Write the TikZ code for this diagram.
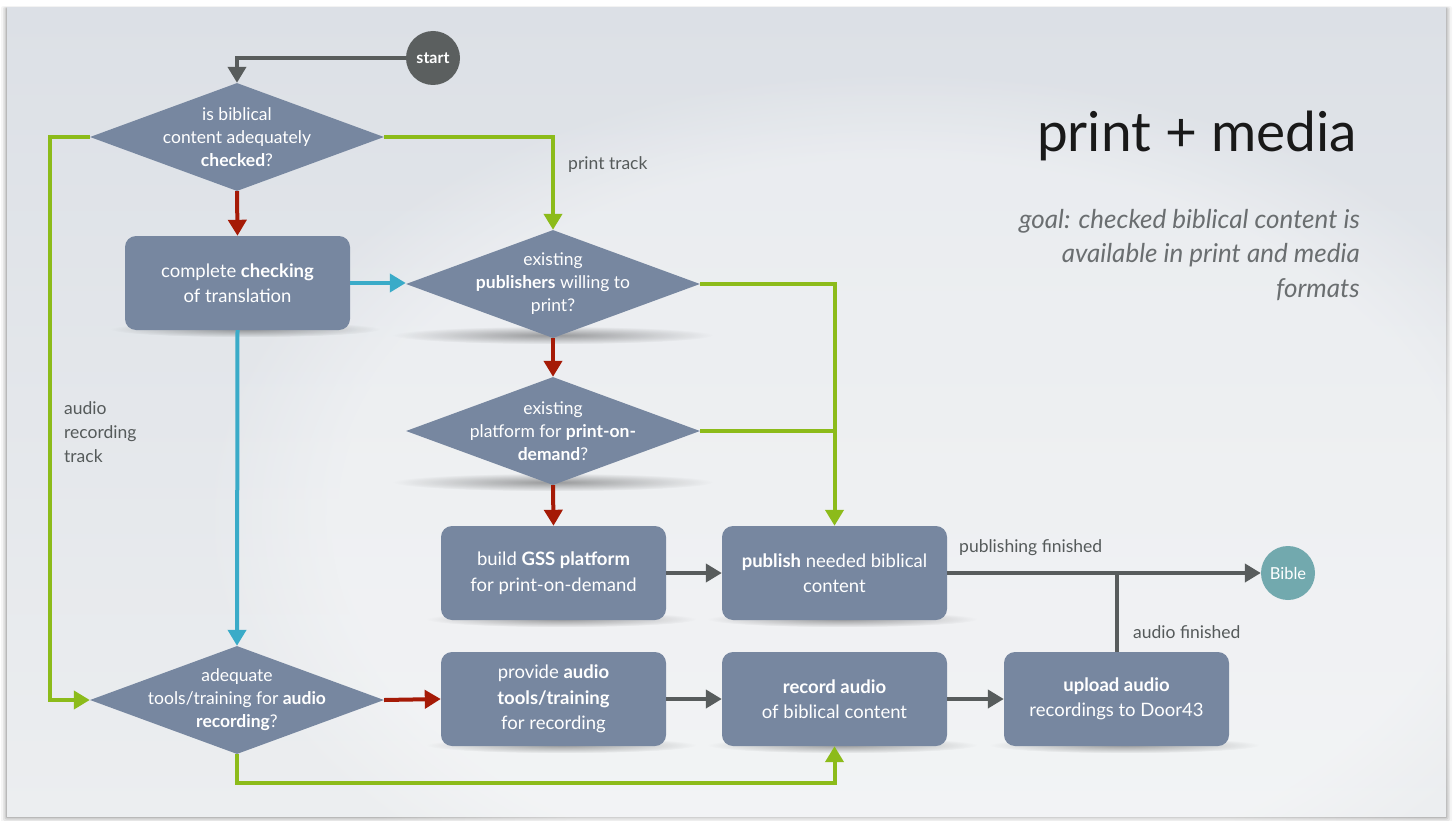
\documentclass[tikz,border=0pt]{standalone}
\usepackage{fontspec}
\setmainfont{Lato}
\usetikzlibrary{shapes.geometric,arrows.meta,fadings,calc}

\definecolor{slidetop}{HTML}{DCE0E6}
\definecolor{slidebot}{HTML}{ECEEF0}
\definecolor{stepfill}{HTML}{7787A0}
\definecolor{gotrack}{HTML}{8CBB1A}
\definecolor{notrack}{HTML}{A51A06}
\definecolor{flowblue}{HTML}{3AABC8}
\definecolor{flowgray}{HTML}{585C5C}
\definecolor{startgray}{HTML}{5B5F5F}
\definecolor{endteal}{HTML}{72A9AE}
\definecolor{labelgray}{HTML}{555A5A}
\definecolor{goalgray}{HTML}{6A6E70}

\tikzfading[name=softspot, inner color=transparent!35, outer color=transparent!100]

\pgfdeclarelayer{shadowlayer}
\pgfdeclarelayer{slide}
\pgfsetlayers{slide,shadowlayer,main}

\tikzset{
  stepbox/.style={rectangle, rounded corners=11pt, fill=stepfill, minimum width=225pt,
    minimum height=94pt, inner sep=0pt, text=white, align=center,
    font=\fontsize{18.5}{25.5}\selectfont},
  decision/.style={diamond, fill=stepfill, minimum width=294pt, minimum height=108pt,
    inner sep=0pt},
  decisiontext/.style={text=white, align=center, font=\fontsize{17.5}{23}\selectfont},
  terminal/.style={circle, minimum size=54pt, inner sep=0pt, text=white,
    font=\fontsize{16}{18}\selectfont\bfseries},
  conn/.style={line width=4pt, -{Triangle[length=16pt,width=18pt]}},
  plain/.style={line width=4pt},
  flowlabel/.style={text=labelgray, anchor=west, align=left, inner sep=0pt,
    font=\fontsize{17.5}{24}\selectfont},
  softshadow/.style={black, opacity=0.55, path fading=softspot},
}

\begin{document}
\begin{tikzpicture}[x=1pt,y=-1pt]
\useasboundingbox (0,0) rectangle (1453,821);

% slide with a soft frame shadow
\begin{pgfonlayer}{slide}
  \fill[white] (0,0) rectangle (1453,821);
  \foreach \d/\o in {6/0.04,4/0.06,2.5/0.08,1.2/0.12}
    \fill[black, opacity=\o, rounded corners=2pt] (7-\d,8-\d*0.3) rectangle (1446+\d,817+\d);
  \shade[top color=slidetop, bottom color=slidebot] (7,8) rectangle (1446,816);
  \fill[white, opacity=0.35, path fading=circle with fuzzy edge 20 percent]
    (900,520) ellipse (700 and 450);
\end{pgfonlayer}

% title block
\node[anchor=base east, inner sep=0pt, font=\fontsize{55}{58}\selectfont, text=black!90]
  (title) at (1357,152) {print + media};
\node[anchor=north east, inner sep=0pt, align=right, text=goalgray,
  font=\fontsize{26}{34.5}\selectfont\itshape]
  (goal) at (1360,209) {goal: checked biblical content is\\available in print and media\\formats};

% terminals
\node[terminal, fill=startgray] (start) at (433,58) {start};
\node[terminal, fill=endteal, font=\fontsize{16.5}{18}\selectfont] (bible) at (1288,573) {Bible};

% decisions
\node[decision] (d1) at (237,137) {};
\node[decisiontext] at (d1) {is biblical\\content adequately\\\textbf{checked}?};
\node[decision] (d2) at (553,284) {};
\node[decisiontext] at (d2) {existing\\\textbf{publishers} willing to\\print?};
\node[decision] (d3) at (553,431) {};
\node[decisiontext] at (d3) {existing\\platform for \textbf{print-on-}\\\textbf{demand}?};
\node[decision] (d4) at (237,700) {};
\node[decisiontext] at (d4) {adequate\\tools/training for \textbf{audio}\\\textbf{recording}?};

% process steps
\node[stepbox] (check) at (237.5,283) {complete \textbf{checking}\\of translation};
\node[stepbox] (gss) at (553.5,573) {build \textbf{GSS platform}\\for print-on-demand};
\node[stepbox] (pub) at (834.5,573) {\textbf{publish} needed biblical\\content};
\node[stepbox] (prov) at (553.5,699) {provide \textbf{audio}\\\textbf{tools/training}\\for recording};
\node[stepbox] (rec) at (834.5,699) {\textbf{record audio}\\of biblical content};
\node[stepbox] (up) at (1116.5,699) {\textbf{upload audio}\\recordings to Door43};

% soft shadows under the shapes
\begin{pgfonlayer}{shadowlayer}
  \foreach \n in {check,gss,pub,prov,rec,up}
    \fill[softshadow] ($(\n.south)+(8,-1)$) ellipse (135 and 8);
  \foreach \n in {d2,d3}
    \fill[softshadow] ($(\n.south)+(0,-3)$) ellipse (160 and 9);
\end{pgfonlayer}

% connectors
\draw[conn, flowgray] (start.west) -| (d1.north);
\draw[conn, gotrack] (d1.west) -- ++(-40,0) |- (d4.west);
\draw[conn, gotrack] (d1.east) -| (d2.north);
\draw[conn, notrack] (d1.south) -- (check.north);
\draw[conn, flowblue] (check.east) -- (check.east -| d2.west);
\draw[conn, flowblue] (check.south) -- (d4.north);
\draw[conn, notrack] (d2.south) -- (d3.north);
\draw[conn, notrack] (d3.south) -- (gss.north);
\draw[conn, gotrack] (d2.east) -| (pub.north);
\draw[plain, gotrack] (d3.east) -- (d3.east -| pub.north);
\draw[conn, flowgray] (gss.east) -- (pub.west);
\draw[conn, flowgray] (pub.east) -- (bible.west);
\draw[plain, flowgray] (up.north) -- (up.north |- bible.center);
\draw[conn, notrack] (d4.east) -- (prov.west);
\draw[conn, flowgray] (prov.east) -- (rec.west);
\draw[conn, flowgray] (rec.east) -- (up.west);
\draw[conn, gotrack] (d4.south) -- ++(0,29) -| (rec.south);

% connector labels
\node[flowlabel] (lprint) at (568,165) {print track};
\node[flowlabel] (laudio) at (64,432) {audio\\recording\\track};
\node[flowlabel] (lpubdone) at (959,548) {publishing finished};
\node[flowlabel] (laudiodone) at (1133,632) {audio finished};
\end{tikzpicture}
\end{document}
